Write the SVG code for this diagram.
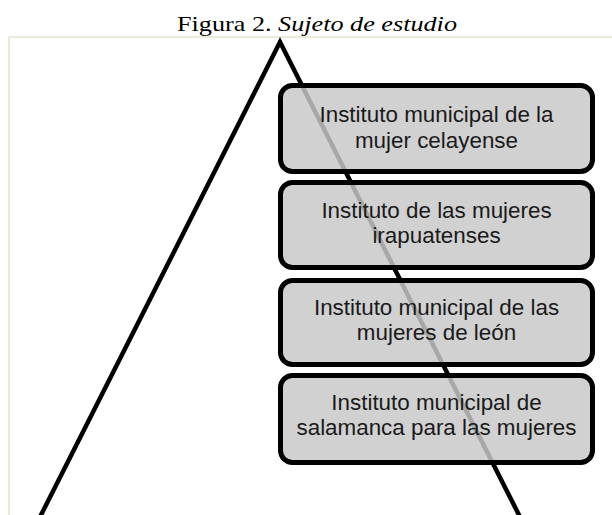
<svg xmlns="http://www.w3.org/2000/svg" width="612" height="515" viewBox="0 0 612 515">
<style>
.frame{fill:none;stroke:#ece9dd;stroke-width:2}
.tri{fill:none;stroke:#000;stroke-width:4.5;stroke-linejoin:miter;stroke-miterlimit:10}
.box{fill:#c8c8c8;fill-opacity:0.84;stroke:#000;stroke-width:5}
.lbl{font-family:"Liberation Sans",Arial,sans-serif;font-size:22.4px;fill:#1a1a1a;text-anchor:middle}
.title{font-family:"Liberation Serif","Times New Roman",serif;font-size:22px;fill:#000}
</style>
<rect width="612" height="515" fill="#fff"/>
<text class="title" x="177" y="31" textLength="280" lengthAdjust="spacingAndGlyphs">Figura 2. <tspan font-style="italic">Sujeto de estudio</tspan></text>
<path class="frame" d="M9,515 V37 H612"/>
<g id="connectors">
<polyline class="tri" points="40,517 280,42 520,517"/>
</g>
<g id="n1">
<rect class="box" x="280.5" y="85.5" width="312" height="86" rx="12"/>
<text class="lbl" x="436.5" y="122">Instituto municipal de la</text>
<text class="lbl" x="436.5" y="148">mujer celayense</text>
</g>
<g id="n2">
<rect class="box" x="280.5" y="182.5" width="312" height="85" rx="12"/>
<text class="lbl" x="436.5" y="218">Instituto de las mujeres</text>
<text class="lbl" x="436.5" y="243">irapuatenses</text>
</g>
<g id="n3">
<rect class="box" x="280.5" y="280.5" width="312" height="84" rx="12"/>
<text class="lbl" x="436.5" y="315">Instituto municipal de las</text>
<text class="lbl" x="436.5" y="340">mujeres de león</text>
</g>
<g id="n4">
<rect class="box" x="280.5" y="375.5" width="312" height="87" rx="12"/>
<text class="lbl" x="436.5" y="410">Instituto municipal de</text>
<text class="lbl" x="436.5" y="435">salamanca para las mujeres</text>
</g>
</svg>
